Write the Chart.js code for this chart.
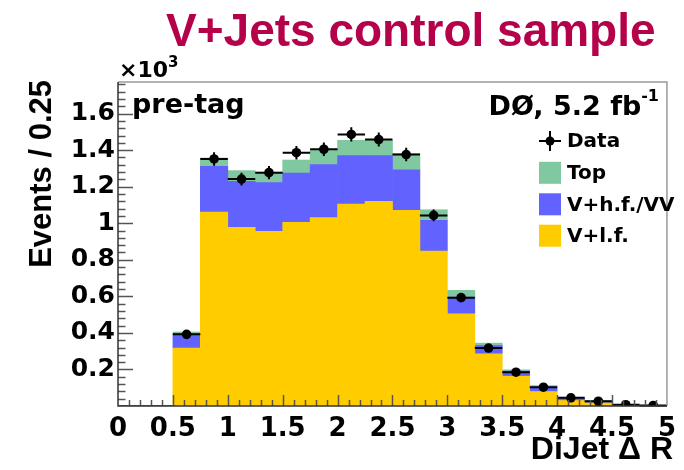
<!DOCTYPE html>
<html>
<head>
<meta charset="utf-8">
<script src="https://cdn.jsdelivr.net/npm/chart.js@4"></script>
<style>
  html, body { margin: 0; padding: 0; background: #ffffff; }
  canvas { display: block; }
</style>
</head>
<body>
<canvas id="c" width="684" height="470"></canvas>
<script>
// DiJet ΔR distribution, events per 0.25 bin (in units of 10^3)
const binCenters = [0.625, 0.875, 1.125, 1.375, 1.625, 1.875, 2.125, 2.375, 2.625,
                    2.875, 3.125, 3.375, 3.625, 3.875, 4.125, 4.375, 4.625, 4.875];
const binWidth = 0.25;

// Stacked simulation components
const vlfEvents = [0.317, 1.061, 0.978, 0.956, 1.005, 1.031, 1.105, 1.120, 1.071,
                   0.848, 0.505, 0.286, 0.163, 0.079, 0.030, 0.017, 0.004, 0.002];
const vhfEvents = [0.078, 0.251, 0.252, 0.266, 0.270, 0.290, 0.265, 0.250, 0.222,
                   0.168, 0.091, 0.045, 0.028, 0.024, 0.013, 0.009, 0.002, 0.001];
const topEvents = [0.010, 0.045, 0.058, 0.058, 0.071, 0.079, 0.084, 0.084, 0.088,
                   0.058, 0.037, 0.013, 0.007, 0.009, 0.005, 0.004, 0.002, 0.001];

// Observed data and its uncertainty
const dataEvents = [0.392, 1.352, 1.242, 1.277, 1.386, 1.405, 1.486, 1.458, 1.376,
                    1.043, 0.593, 0.317, 0.185, 0.103, 0.045, 0.026, 0.007, 0.003];
const dataErrors = [0.020, 0.037, 0.035, 0.036, 0.037, 0.037, 0.039, 0.038, 0.037,
                    0.032, 0.024, 0.018, 0.014, 0.010, 0.007, 0.005, 0.003, 0.002];

// Axis ticks
const xTickValues = [0, 0.5, 1, 1.5, 2, 2.5, 3, 3.5, 4, 4.5, 5];
const yTickValues = [0.2, 0.4, 0.6, 0.8, 1, 1.2, 1.4, 1.6];
const xMin = 0, xMax = 5, yMin = 0, yMax = 1.773;

const colVlf = '#FFCC00';
const colVhf = '#6262FF';
const colTop = '#80C8A0';
const colTitle = '#B5004A';

const toPoints = arr => binCenters.map((x, i) => ({ x: x, y: arr[i] }));

// Frame, inward ticks, error bars, labels and legend in ROOT style
const rootStyle = {
  id: 'rootStyle',
  afterDatasetsDraw(chart) {
    const ctx = chart.ctx;
    const xs = chart.scales.x, ys = chart.scales.y;
    const area = chart.chartArea;
    ctx.save();

    // histogram outline along zero
    ctx.strokeStyle = '#A0522D';
    ctx.lineWidth = 1.2;
    ctx.beginPath();
    ctx.moveTo(xs.getPixelForValue(xMin), ys.getPixelForValue(0) - 0.5);
    ctx.lineTo(xs.getPixelForValue(binCenters[0] - binWidth / 2), ys.getPixelForValue(0) - 0.5);
    ctx.stroke();

    // data error bars
    ctx.strokeStyle = '#000000';
    ctx.lineWidth = 2;
    dataEvents.forEach((v, i) => {
      const c = binCenters[i];
      const py = ys.getPixelForValue(v);
      ctx.beginPath();
      ctx.moveTo(xs.getPixelForValue(c - binWidth / 2), py);
      ctx.lineTo(xs.getPixelForValue(c + binWidth / 2), py);
      ctx.moveTo(xs.getPixelForValue(c), ys.getPixelForValue(v - dataErrors[i]));
      ctx.lineTo(xs.getPixelForValue(c), ys.getPixelForValue(v + dataErrors[i]));
      ctx.stroke();
    });

    // y ticks (major every 0.2, minor every 0.04)
    ctx.strokeStyle = '#555555';
    ctx.lineWidth = 1.5;
    for (let k = 1; k * 0.04 <= yMax + 1e-9; k++) {
      const v = k * 0.04;
      const major = k % 5 === 0;
      const py = Math.round(ys.getPixelForValue(v)) + 0.5;
      ctx.beginPath();
      ctx.moveTo(area.left, py);
      ctx.lineTo(area.left + (major ? 15 : 7.5), py);
      ctx.stroke();
    }
    // x ticks (major every 0.5, minor every 0.1)
    for (let k = 1; k < 50; k++) {
      const v = k * 0.1;
      const major = k % 5 === 0;
      const px = Math.round(xs.getPixelForValue(v)) + 0.5;
      ctx.beginPath();
      ctx.moveTo(px, area.bottom);
      ctx.lineTo(px, area.bottom - (major ? 11 : 6));
      ctx.stroke();
    }

    // frame
    ctx.lineWidth = 1.5;
    ctx.strokeStyle = '#999999';
    ctx.beginPath();
    ctx.moveTo(area.left, area.top);
    ctx.lineTo(area.right, area.top);
    ctx.lineTo(area.right, area.bottom);
    ctx.stroke();
    ctx.strokeStyle = '#333333';
    ctx.beginPath();
    ctx.moveTo(area.left, area.top);
    ctx.lineTo(area.left, area.bottom);
    ctx.lineTo(area.right, area.bottom);
    ctx.stroke();
    ctx.restore();
  },
  afterDraw(chart) {
    const ctx = chart.ctx;
    ctx.save();
    ctx.fillStyle = '#000000';
    ctx.textBaseline = 'alphabetic';

    // title
    ctx.fillStyle = colTitle;
    ctx.font = 'bold 46px "Liberation Sans", Arial, sans-serif';
    ctx.textAlign = 'left';
    ctx.fillText('V+Jets control sample', 166, 46);

    ctx.fillStyle = '#000000';
    // axis multiplier
    ctx.font = 'bold 22px "DejaVu Sans"';
    ctx.fillText('\u00D710', 119, 77);
    ctx.font = 'bold 15px "DejaVu Sans"';
    ctx.fillText('3', 168, 67);

    // plot labels
    ctx.font = 'bold 27px "DejaVu Sans"';
    ctx.fillText('pre-tag', 132, 113);
    ctx.textAlign = 'right';
    ctx.font = 'bold 16px "DejaVu Sans"';
    const supW = ctx.measureText('-1').width;
    ctx.fillText('-1', 659, 101);
    ctx.font = 'bold 27px "DejaVu Sans"';
    ctx.fillText('D\u00D8, 5.2 fb', 659 - supW, 115);

    // axis titles
    ctx.font = 'bold 32px "Liberation Sans", Arial, sans-serif';
    ctx.textAlign = 'right';
    ctx.fillText('DiJet \u0394 R', 673, 459);
    ctx.save();
    ctx.translate(51, 80);
    ctx.rotate(-Math.PI / 2);
    ctx.font = 'bold 31px "Liberation Sans", Arial, sans-serif';
    ctx.fillText('Events / 0.25', 0, 0);
    ctx.restore();

    // legend
    const lx = 539, lw = 22, tx = 567;
    const rows = [141, 172.8, 204.3, 235.7];
    ctx.strokeStyle = '#000000';
    ctx.lineWidth = 2;
    ctx.beginPath();
    ctx.moveTo(lx, rows[0]); ctx.lineTo(lx + lw, rows[0]);
    ctx.moveTo(lx + lw / 2, rows[0] - 10); ctx.lineTo(lx + lw / 2, rows[0] + 10);
    ctx.stroke();
    ctx.beginPath();
    ctx.arc(lx + lw / 2, rows[0], 4.5, 0, Math.PI * 2);
    ctx.fill();
    [[colTop, rows[1]], [colVhf, rows[2]], [colVlf, rows[3]]].forEach(([c, y]) => {
      ctx.fillStyle = c;
      ctx.fillRect(lx, y - 11, lw, 22);
    });
    ctx.fillStyle = '#000000';
    ctx.textAlign = 'left';
    ctx.textBaseline = 'middle';
    ctx.font = 'bold 20px "DejaVu Sans"';
    ['Data', 'Top', 'V+h.f./VV', 'V+l.f.'].forEach((t, i) => ctx.fillText(t, tx, rows[i] + 1));
    ctx.restore();
  }
};

new Chart(document.getElementById('c'), {
  type: 'bar',
  data: {
    datasets: [
      { label: 'V+l.f.', data: toPoints(vlfEvents), backgroundColor: colVlf, stack: 'mc', borderWidth: 0 },
      { label: 'V+h.f./VV', data: toPoints(vhfEvents), backgroundColor: colVhf, stack: 'mc', borderWidth: 0 },
      { label: 'Top', data: toPoints(topEvents), backgroundColor: colTop, stack: 'mc', borderWidth: 0 },
      { type: 'scatter', label: 'Data', data: toPoints(dataEvents), stack: 'data', order: -1,
        pointRadius: 4.8, pointBackgroundColor: '#000000', pointBorderWidth: 0, showLine: false }
    ]
  },
  options: {
    responsive: false,
    animation: false,
    devicePixelRatio: 1,
    barPercentage: 1,
    categoryPercentage: 1,
    layout: { padding: { left: 0, right: 8, top: 82, bottom: 0 } },
    plugins: { legend: { display: false }, tooltip: { enabled: false } },
    scales: {
      x: {
        type: 'linear', min: xMin, max: xMax, offset: false,
        grid: { display: false, offset: false, drawTicks: false },
        border: { display: false },
        afterBuildTicks: s => { s.ticks = xTickValues.map(v => ({ value: v })); },
        afterFit: s => { s.height = 64; },
        ticks: {
          autoSkip: false, maxRotation: 0, padding: 8, color: '#000000',
          font: { family: 'DejaVu Sans', weight: 'bold', size: 26 },
          callback: v => String(v)
        }
      },
      y: {
        type: 'linear', min: yMin, max: yMax, stacked: true,
        grid: { display: false, drawTicks: false },
        border: { display: false },
        afterBuildTicks: s => { s.ticks = yTickValues.map(v => ({ value: v })); },
        afterFit: s => { s.width = 118; },
        ticks: {
          autoSkip: false, padding: 3, color: '#000000',
          font: { family: 'DejaVu Sans', weight: 'bold', size: 25 },
          callback: v => String(v)
        }
      }
    }
  },
  plugins: [rootStyle]
});
</script>
</body>
</html>
